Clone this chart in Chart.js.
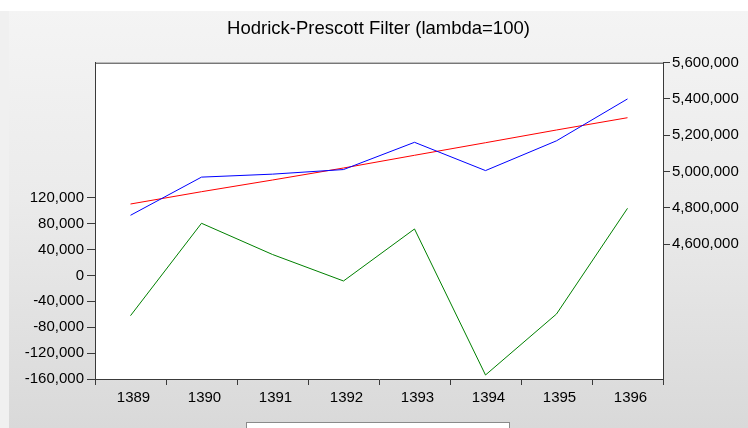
<!DOCTYPE html>
<html>
<head>
<meta charset="utf-8">
<script src="https://cdn.jsdelivr.net/npm/chart.js@4.4.1/dist/chart.umd.min.js"></script>
<style>
    html, body { margin: 0; padding: 0; }
    body { width: 748px; height: 428px; background: #f0f0f0; position: relative; overflow: hidden; }
    #top-strip { position: absolute; left: 0; top: 0; width: 748px; height: 11px; background: #ffffff; }
    #panel {
        position: absolute; left: 9px; top: 11px; width: 739px; height: 417px;
        background: linear-gradient(to bottom, #f4f4f4 0%, #ebebeb 45%, #d9d9d9 100%);
    }
    #legend-box {
        position: absolute; left: 246px; top: 422px; width: 262px; height: 20px;
        background: #ffffff; border: 1px solid #8a8a8a;
    }
</style>
</head>
<body>
<div id="top-strip"></div>
<div id="panel">
    <canvas id="hp-chart" width="739" height="417"></canvas>
</div>
<div id="legend-box"></div>
<script>
// categories
const years = ['1389', '1390', '1391', '1392', '1393', '1394', '1395', '1396'];

// series (right axis: actual and trend, left axis: cycle)
const actualSeries = [4758400, 4968900, 4985300, 5010600, 5160900, 5004900, 5169200, 5400200];
const trendSeries = [4820600, 4888500, 4953000, 5019200, 5089300, 5158700, 5228800, 5296600];
const cycleSeries = [-62200, 80500, 32300, -8600, 71700, -153800, -59600, 103600];

// tick labels shown on each axis
const leftTicks = [-160000, -120000, -80000, -40000, 0, 40000, 80000, 120000];
const rightTicks = [4600000, 4800000, 5000000, 5200000, 5400000, 5600000];

const axisColor = '#3a3a3a';
const tickFont = { family: 'Liberation Sans, Arial, sans-serif', size: 15 };

// plot background + top border (EViews style box)
const boxPlugin = {
    id: 'plotBox',
    beforeDraw(chart) {
        const a = chart.chartArea;
        const ctx = chart.ctx;
        ctx.save();
        ctx.fillStyle = '#ffffff';
        ctx.fillRect(a.left, a.top, a.right - a.left, a.bottom - a.top);
        ctx.restore();
    },
    afterDraw(chart) {
        const a = chart.chartArea;
        const ctx = chart.ctx;
        ctx.save();
        ctx.strokeStyle = axisColor;
        ctx.lineWidth = 1;
        ctx.beginPath();
        ctx.moveTo(a.left, a.top + 0.5);
        ctx.lineTo(a.right, a.top + 0.5);
        ctx.stroke();
        ctx.restore();
    }
};

function fmt(v) {
    return Number(v).toLocaleString('en-US');
}

const ctx = document.getElementById('hp-chart').getContext('2d');
new Chart(ctx, {
    type: 'line',
    data: {
        labels: years,
        datasets: [
            { label: 'Actual', data: actualSeries, yAxisID: 'yRight', borderColor: '#0000ff', borderWidth: 1, pointRadius: 0, tension: 0 },
            { label: 'Trend', data: trendSeries, yAxisID: 'yRight', borderColor: '#ff0000', borderWidth: 1, pointRadius: 0, tension: 0 },
            { label: 'Cycle', data: cycleSeries, yAxisID: 'yLeft', borderColor: '#008000', borderWidth: 1, pointRadius: 0, tension: 0 }
        ]
    },
    options: {
        responsive: false,
        animation: false,
        devicePixelRatio: 1,
        layout: { padding: { left: 0, right: 0, top: 0, bottom: 0 } },
        plugins: {
            legend: { display: false },
            tooltip: { enabled: false },
            title: {
                display: true,
                text: 'Hodrick-Prescott Filter (lambda=100)',
                color: '#000000',
                font: { family: 'Liberation Sans, Arial, sans-serif', size: 18.5, weight: 'normal' },
                padding: { top: 7, bottom: 22.5 }
            }
        },
        scales: {
            x: {
                type: 'category',
                offset: true,
                grid: { display: true, drawOnChartArea: false, offset: true, tickLength: 6, color: axisColor },
                border: { color: axisColor },
                ticks: { color: '#000000', font: tickFont, padding: 4, labelOffset: 3, maxRotation: 0, autoSkip: false },
                afterFit(scale) { scale.height = 49; }
            },
            yLeft: {
                type: 'linear',
                position: 'left',
                min: -160000,
                max: 328500,
                grid: { drawOnChartArea: false, tickLength: 8, color: axisColor },
                border: { color: axisColor },
                ticks: { color: '#000000', font: tickFont, padding: 3, callback: fmt },
                afterBuildTicks(scale) { scale.ticks = leftTicks.map(v => ({ value: v })); },
                afterFit(scale) { scale.width = 86; }
            },
            yRight: {
                type: 'linear',
                position: 'right',
                min: 3855400,
                max: 5600000,
                grid: { drawOnChartArea: false, tickLength: 7, color: axisColor },
                border: { color: axisColor },
                ticks: { color: '#000000', font: tickFont, padding: 2, callback: fmt },
                afterBuildTicks(scale) { scale.ticks = rightTicks.map(v => ({ value: v })); },
                afterFit(scale) { scale.width = 85; }
            }
        }
    },
    plugins: [boxPlugin]
});
</script>
</body>
</html>
